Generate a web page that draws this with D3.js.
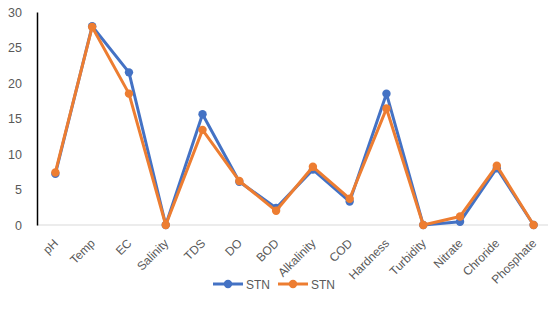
<!DOCTYPE html>
<html>
<head>
<meta charset="utf-8">
<script src="https://cdn.jsdelivr.net/npm/d3@7"></script>
<style>
  html, body { margin: 0; padding: 0; background: #fff; }
  svg { display: block; font-family: "Liberation Sans", "Open Sans", sans-serif; }
</style>
</head>
<body>
<svg id="chart" width="548" height="323"></svg>
<script>
const categories = ["pH", "Temp", "EC", "Salinity", "TDS", "DO", "BOD", "Alkalinity", "COD", "Hardness", "Turbidity", "Nitrate", "Chroride", "Phosphate"];
const seriesA = [7.2, 28, 21.5, 0, 15.6, 6.1, 2.4, 7.8, 3.3, 18.5, 0, 0.45, 8.0, 0];
const seriesB = [7.4, 27.9, 18.5, 0, 13.4, 6.2, 2.0, 8.2, 3.7, 16.4, 0, 1.2, 8.35, 0];
const seriesNames = ["STN", "STN"];
const seriesColors = ["#4472C4", "#ED7D31"];
const yTicks = [0, 5, 10, 15, 20, 25, 30];

const svg = d3.select("#chart");
const plot = { left: 37, right: 552, top: 12, bottom: 225 };

const x = d3.scalePoint().domain(categories).range([plot.left, plot.right]).padding(0.5);
const y = d3.scaleLinear().domain([0, 30]).range([plot.bottom, plot.top]);

// baseline
svg.append("line")
  .attr("x1", plot.left).attr("x2", 548)
  .attr("y1", y(0)).attr("y2", y(0))
  .attr("stroke", "#d9d9d9").attr("stroke-width", 1);

// value axis
const yAxis = svg.append("g")
  .attr("transform", `translate(${plot.left},0)`)
  .call(d3.axisLeft(y).tickValues(yTicks).tickSize(0).tickPadding(15));
yAxis.select(".domain").attr("stroke", "#000").attr("stroke-width", 1.5);
yAxis.selectAll("text").attr("fill", "#595959").attr("font-size", 12.5);

// category axis labels, slanted
const xAxis = svg.append("g")
  .attr("transform", `translate(0,${plot.bottom})`)
  .call(d3.axisBottom(x).tickSize(0).tickPadding(0));
xAxis.select(".domain").remove();
xAxis.selectAll("text")
  .attr("fill", "#595959").attr("font-size", 12)
  .attr("text-anchor", "end")
  .attr("y", 0)
  .attr("dy", null)
  .attr("transform", "translate(3,19) rotate(-45)");

const line = d3.line().x((d, i) => x(categories[i])).y(d => y(d));

[seriesA, seriesB].forEach((vals, k) => {
  const g = svg.append("g");
  g.append("path")
    .datum(vals)
    .attr("d", line)
    .attr("fill", "none")
    .attr("stroke", seriesColors[k])
    .attr("stroke-width", 3)
    .attr("stroke-linejoin", "round");
  g.selectAll("circle")
    .data(vals)
    .join("circle")
    .attr("cx", (d, i) => x(categories[i]))
    .attr("cy", d => y(d))
    .attr("r", 4.2)
    .attr("fill", seriesColors[k]);
});

// legend
const legend = svg.append("g").attr("transform", "translate(213,284)");
seriesNames.forEach((name, k) => {
  const g = legend.append("g").attr("transform", `translate(${k * 65},0)`);
  g.append("line").attr("x1", 0).attr("x2", 30).attr("y1", 0).attr("y2", 0)
    .attr("stroke", seriesColors[k]).attr("stroke-width", 3);
  g.append("circle").attr("cx", 15).attr("cy", 0).attr("r", 4.2).attr("fill", seriesColors[k]);
  g.append("text").attr("x", 33).attr("y", 4.5)
    .attr("fill", "#595959").attr("font-size", 12).text(name);
});
</script>
</body>
</html>
